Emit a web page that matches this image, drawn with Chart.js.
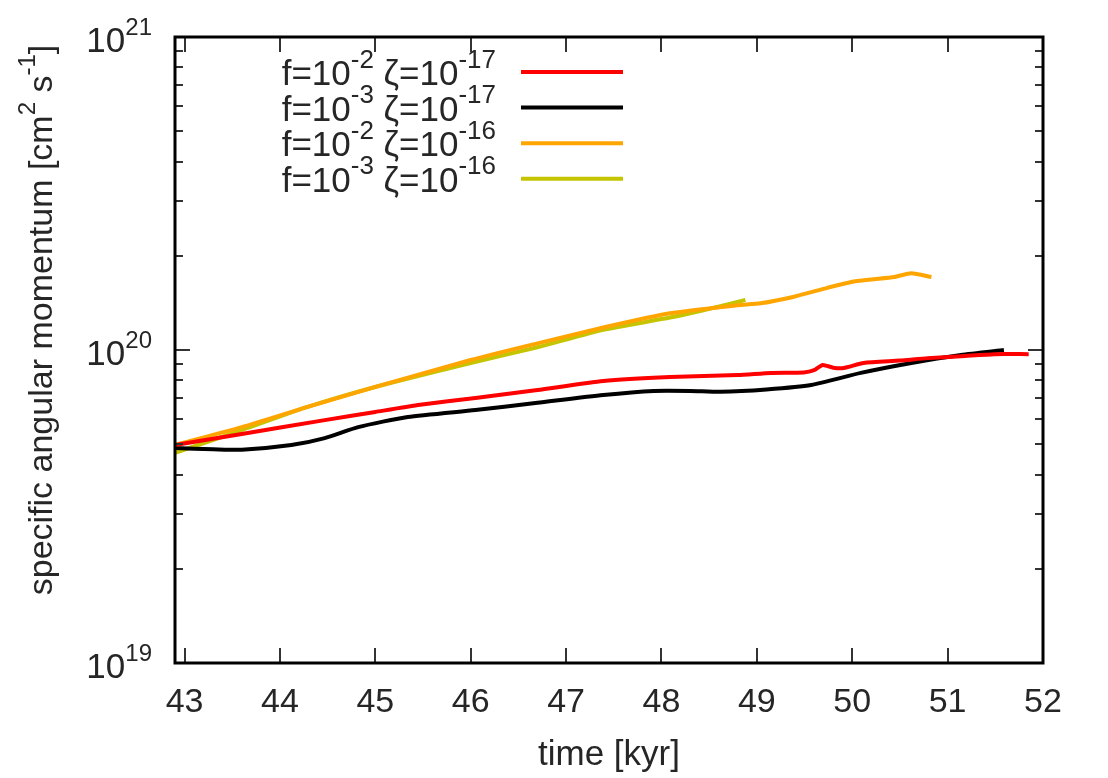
<!DOCTYPE html>
<html lang="en">
<head>
    <meta charset="UTF-8">
    <title>Specific angular momentum vs time</title>
    <script src="https://cdn.jsdelivr.net/npm/chart.js@4.4.0/dist/chart.umd.min.js"></script>
    <style>
        html, body { margin: 0; padding: 0; background: #fff; }
        #wrap { width: 1108px; height: 778px; position: relative; }
    </style>
</head>
<body>
    <div id="wrap"><canvas id="chart"></canvas></div>

    <script>
        // values, J in units of 1e20 cm^2 s^-1
        const UNIT = 1e20;

        const redTime = [42.9, 43.6, 44.47, 45.0, 45.47, 46.05, 46.7, 47.39, 48.09, 48.8, 49.15, 49.49, 49.6, 49.69, 49.8, 49.91, 50.12, 50.5, 50.79, 51.14, 51.49, 51.85];
        const redJ = [0.497, 0.539, 0.597, 0.634, 0.668, 0.703, 0.745, 0.796, 0.820, 0.832, 0.845, 0.848, 0.862, 0.896, 0.878, 0.876, 0.909, 0.925, 0.942, 0.955, 0.970, 0.970];

        const blackTime = [42.9, 43.3, 43.6, 44.12, 44.47, 44.82, 45.34, 46.05, 46.7, 47.39, 47.92, 48.3, 48.62, 49.1, 49.57, 50.09, 50.62, 51.14, 51.59];
        const blackJ = [0.486, 0.482, 0.480, 0.497, 0.523, 0.567, 0.611, 0.643, 0.678, 0.718, 0.740, 0.740, 0.735, 0.748, 0.773, 0.845, 0.909, 0.964, 1.0];

        const orangeTime = [42.9, 43.6, 44.29, 45.0, 46.0, 46.7, 47.39, 48.09, 48.8, 49.04, 49.39, 49.74, 49.99, 50.2, 50.44, 50.62, 50.83];
        const orangeJ = [0.497, 0.567, 0.658, 0.762, 0.929, 1.05, 1.18, 1.31, 1.39, 1.41, 1.48, 1.58, 1.65, 1.68, 1.71, 1.76, 1.71];

        const oliveTime = [42.9, 43.6, 44.29, 45.0, 46.0, 46.7, 47.39, 48.09, 48.44, 48.88];
        const oliveJ = [0.469, 0.555, 0.658, 0.762, 0.909, 1.02, 1.16, 1.27, 1.34, 1.445];

        const xTicks = [43, 44, 45, 46, 47, 48, 49, 50, 51, 52];
        const yMajorExp = [19, 20, 21];

        // legend labels: [text, superscript, text, superscript]
        const legendLabels = [
            ['f=10', '-2', ' \u03b6=10', '-17'],
            ['f=10', '-3', ' \u03b6=10', '-17'],
            ['f=10', '-2', ' \u03b6=10', '-16'],
            ['f=10', '-3', ' \u03b6=10', '-16']
        ];
        const seriesColors = ['#ff0000', '#000000', '#ffa500', '#c4c400'];

        const FONT = '"Liberation Sans", Arial, sans-serif';
        const TEXT = '#262626';

        function toPoints(times, vals) {
            return times.map((t, i) => ({ x: t, y: vals[i] * UNIT }));
        }

        // draw a run of normal / superscript pieces starting at x, baseline y
        function drawPieces(ctx, pieces, x, y, size, supSize) {
            let cx = x;
            pieces.forEach((p, i) => {
                const sup = i % 2 === 1;
                ctx.font = (sup ? supSize : size) + 'px ' + FONT;
                ctx.fillText(p, cx, sup ? y - size * 0.5 : y);
                cx += ctx.measureText(p).width;
            });
        }
        function piecesWidth(ctx, pieces, size, supSize) {
            let w = 0;
            pieces.forEach((p, i) => {
                ctx.font = (i % 2 === 1 ? supSize : size) + 'px ' + FONT;
                w += ctx.measureText(p).width;
            });
            return w;
        }

        const framePlugin = {
            id: 'frame',
            afterDraw(chart) {
                const { ctx, chartArea: a, scales: { x, y } } = chart;
                ctx.save();
                ctx.textAlign = 'left';
                ctx.textBaseline = 'alphabetic';

                // tick marks pointing inward, mirrored on both sides
                ctx.strokeStyle = '#333';
                ctx.lineWidth = 2;
                ctx.beginPath();
                xTicks.forEach(v => {
                    const px = Math.round(x.getPixelForValue(v));
                    ctx.moveTo(px, a.bottom); ctx.lineTo(px, a.bottom - 15);
                    ctx.moveTo(px, a.top); ctx.lineTo(px, a.top + 15);
                });
                yMajorExp.forEach(e => {
                    const py = Math.round(y.getPixelForValue(Math.pow(10, e)));
                    ctx.moveTo(a.left, py); ctx.lineTo(a.left + 15, py);
                    ctx.moveTo(a.right, py); ctx.lineTo(a.right - 15, py);
                    if (e < 21) {
                        for (let m = 2; m <= 9; m++) {
                            const pm = Math.round(y.getPixelForValue(m * Math.pow(10, e)));
                            ctx.moveTo(a.left, pm); ctx.lineTo(a.left + 8, pm);
                            ctx.moveTo(a.right, pm); ctx.lineTo(a.right - 8, pm);
                        }
                    }
                });
                ctx.stroke();

                // frame
                ctx.strokeStyle = '#000';
                ctx.lineWidth = 3;
                ctx.strokeRect(a.left, a.top, a.right - a.left, a.bottom - a.top);

                ctx.fillStyle = TEXT;

                // x tick labels
                ctx.font = '34px ' + FONT;
                ctx.textAlign = 'center';
                xTicks.forEach(v => {
                    ctx.fillText(String(v), x.getPixelForValue(v), a.bottom + 49);
                });
                ctx.font = '35px ' + FONT;
                ctx.fillText('time [kyr]', (a.left + a.right) / 2, a.bottom + 102);
                ctx.textAlign = 'left';

                // y tick labels 10^n
                yMajorExp.forEach(e => {
                    const py = y.getPixelForValue(Math.pow(10, e));
                    const p = ['10', String(e)];
                    const w = piecesWidth(ctx, p, 35, 24);
                    drawPieces(ctx, p, a.left - 23 - w, py + 15, 35, 24);
                });

                // y title, rotated
                const title = ['specific angular momentum [cm', '2', ' s', '-1', ']'];
                ctx.save();
                ctx.translate(52, 320);
                ctx.rotate(-Math.PI / 2);
                const tw = piecesWidth(ctx, title, 34, 24);
                drawPieces(ctx, title, -tw / 2, 0, 34, 24);
                ctx.restore();

                // legend
                legendLabels.forEach((lab, i) => {
                    const ly = 72 + i * 35.6;
                    const w = piecesWidth(ctx, lab, 35, 26);
                    ctx.fillStyle = TEXT;
                    drawPieces(ctx, lab, 496 - w, ly + 13, 35, 26);
                    ctx.strokeStyle = seriesColors[i];
                    ctx.lineWidth = 4;
                    ctx.beginPath();
                    ctx.moveTo(521, ly);
                    ctx.lineTo(623, ly);
                    ctx.stroke();
                });

                ctx.restore();
            }
        };

        function makeDataset(label, times, vals, color) {
            return {
                label: label,
                data: toPoints(times, vals),
                borderColor: color,
                backgroundColor: color,
                borderWidth: 4,
                pointRadius: 0,
                tension: 0.2,
                fill: false
            };
        }

        new Chart(document.getElementById('chart'), {
            type: 'line',
            data: {
                datasets: [
                    makeDataset('red', redTime, redJ, seriesColors[0]),
                    makeDataset('black', blackTime, blackJ, seriesColors[1]),
                    makeDataset('orange', orangeTime, orangeJ, seriesColors[2]),
                    makeDataset('olive', oliveTime, oliveJ, seriesColors[3])
                ]
            },
            options: {
                responsive: true,
                maintainAspectRatio: false,
                animation: false,
                layout: { padding: { left: 175, right: 65, top: 37, bottom: 115 } },
                plugins: {
                    legend: { display: false },
                    tooltip: { enabled: false }
                },
                scales: {
                    x: {
                        type: 'linear',
                        min: 42.9,
                        max: 52,
                        ticks: { display: false },
                        grid: { display: false },
                        border: { display: false },
                        afterFit: s => { s.height = 0; }
                    },
                    y: {
                        type: 'logarithmic',
                        min: 1e19,
                        max: 1e21,
                        ticks: { display: false },
                        grid: { display: false },
                        border: { display: false },
                        afterFit: s => { s.width = 0; }
                    }
                }
            },
            plugins: [framePlugin]
        });
    </script>
</body>
</html>
